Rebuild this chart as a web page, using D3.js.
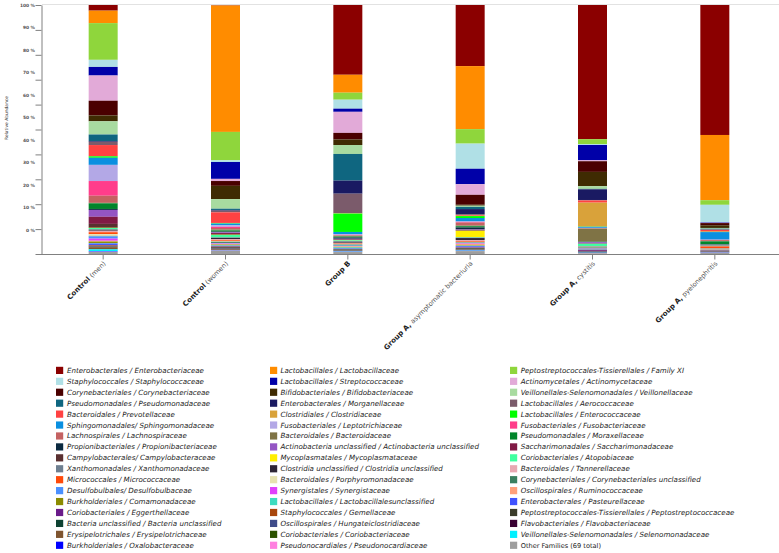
<!DOCTYPE html>
<html><head><meta charset="utf-8">
<script src="https://cdn.jsdelivr.net/npm/d3@7"></script>
<style>body{margin:0;background:#fff} svg{display:block}</style>
</head><body><svg id="c" width="779" height="553"></svg>
<script>
// ---- Data ----
const groupBold = ["Control", "Control", "Group B", "Group A,", "Group A,", "Group A,"];
const groupRest = [" (men)", " (women)", "", " asymptomatic bacteriuria", " cystitis", " pyelonephritis"];

// families in stacking order (top of bar first)
const families = [
 "Enterobacterales / Enterobacteriaceae","Lactobacillales / Lactobacillaceae","Peptostreptococcales-Tissierellales / Family XI",
 "Staphylococcales / Staphylococcaceae","Lactobacillales / Streptococcaceae","Actinomycetales / Actinomycetaceae",
 "Corynebacteriales / Corynebacteriaceae","Bifidobacteriales / Bifidobacteriaceae","Veillonellales-Selenomonadales / Veillonellaceae",
 "Pseudomonadales / Pseudomonadaceae","Enterobacterales / Morganellaceae","Lactobacillales / Aerococcaceae",
 "Bacteroidales / Prevotellaceae","Clostridiales / Clostridiaceae","Lactobacillales / Enterococcaceae",
 "Sphingomonadales/ Sphingomonadaceae","Fusobacteriales / Leptotrichiaceae","Fusobacteriales / Fusobacteriaceae",
 "Lachnospirales / Lachnospiraceae","Bacteroidales / Bacteroidaceae","Pseudomonadales / Moraxellaceae",
 "Propionibacteriales / Propionibacteriaceae","Actinobacteria unclassified / Actinobacteria unclassified","Saccharimonadales / Saccharimonadaceae",
 "Campylobacterales/ Campylobacteraceae","Mycoplasmatales / Mycoplasmataceae","Coriobacteriales / Atopobiaceae",
 "Xanthomonadales / Xanthomonadaceae","Clostridia unclassified / Clostridia unclassified","Bacteroidales / Tannerellaceae",
 "Micrococcales / Micrococcaceae","Bacteroidales / Porphyromonadaceae","Corynebacteriales / Corynebacteriales unclassified",
 "Desulfobulbales/ Desulfobulbaceae","Synergistales / Synergistaceae","Oscillospirales / Ruminococcaceae",
 "Burkholderiales / Comamonadaceae","Lactobacillales / Lactobacillalesunclassified","Enterobacterales / Pasteurellaceae",
 "Coriobacteriales / Eggerthellaceae","Staphylococcales / Gemellaceae","Peptostreptococcales-Tissierellales / Peptostreptococcaceae",
 "Bacteria unclassified / Bacteria unclassified","Oscillospirales / Hungateiclostridiaceae","Flavobacteriales / Flavobacteriaceae",
 "Erysipelotrichales / Erysipelotrichaceae","Coriobacteriales / Coriobacteriaceae","Veillonellales-Selenomonadales / Selenomonadaceae",
 "Burkholderiales / Oxalobacteraceae","Pseudonocardiales / Pseudonocardiaceae","Other Families (69 total)"
];

const familyColors = [
 "#8b0000","#ff8c00","#8fd63c","#b0e0e6","#0000a8","#e2aad8","#4a0000","#3f2b02","#a8dba0",
 "#0f6680","#1a1a62","#7b5b6b","#ff4242","#d9a23a","#00ff00","#0a8fe0","#b3a8e6","#ff3d8b",
 "#c46262","#7f7345","#00852a","#0b2a40","#9455c4","#801a45","#5a3030","#ffee00","#40ffa0",
 "#6e7f90","#2e2636","#e8a8b2","#ff4a0a","#e6e2b0","#3a8060","#4a90ff","#e040fb","#ffa07a",
 "#8b8b00","#3cdcc0","#3f52ff","#6a1b8a","#a8460c","#3a3c2a","#0e4232","#3e4b8a","#3a0032",
 "#7f5530","#2b5200","#00f0ff","#0000ff","#ff80e0","#9e9e9e"
];

// relative abundance (%) per family, in the order of `families`
const valsControlMen = [2.3,5.1,15,2.9,3.5,10.3,6.0,2.4,5.4,2.7,0.3,1.3,4.6,0,0.6,2.9,6.6,6.0,2.9,0.2,2.3,0.4,2.8,2.9,1.6,0.1,0.5,0.2,0.4,0.6,0.8,0.7,0.2,0.9,0.9,0.3,0.6,0.2,0.6,0.2,0.2,0.2,0.1,0.1,0.1,0.8,0.1,0.8,0.2,0.1,0.8];
const valsControlWomen = [0.2,52.5,11.8,0.7,7.0,0.9,2.0,5.5,4.0,0.5,0.3,0.7,4.4,0.1,0.2,0.7,0.6,0.5,0.6,0.4,0.5,0.3,0.3,0.4,0.3,0.1,1.0,0.2,0.5,0.5,0.3,0.3,0.5,0.2,0.2,0.3,0.3,0.2,0.2,0.2,0.2,0.4,0.1,0.1,0.3,0.2,0.1,0.1,0.1,0.1,1.3];
const valsGroupB = [28.8,7.4,2.9,3.7,1.3,8.7,2.7,2.3,3.7,11.0,5.4,8.0,0.1,0.1,7.6,0.9,0.3,0.2,0.2,0.3,0.4,0.5,0.2,0.2,0.2,0.1,0.3,0.4,0.3,0.3,0.2,0.2,0.4,0.2,0.1,0.3,0.2,0.4,0.2,0.1,0.1,0.2,0.1,0.1,0.1,0.1,0.1,0.2,0.1,0.1,0.8];
const valsAsymptomatic = [25.3,26.1,6.0,10.4,6.4,4.4,4.1,0.4,0.5,0.9,2.1,0.4,0.3,0.1,0.8,1.4,0.2,0.3,1.2,0.3,0.5,0.8,0.2,0.2,0.2,2.6,0.2,0.2,0.8,0.5,0.3,0.2,0.2,0.2,0.2,0.6,0.2,0.2,0.5,0.1,0.2,0.3,0.1,0.1,0.1,0.1,0.1,0.2,0.1,0.1,1.2];
const valsCystitis = [55.4,0,2.0,0.4,6.3,0.4,4.4,5.9,1.1,0.2,4.4,0.2,0.9,9.9,0.1,0.4,0.1,0.1,0.1,5.4,0.1,0.1,0.5,0.1,0.1,0,1.0,0.1,0.1,0.1,0.1,0.1,0.4,0.1,0.1,0.1,0.1,0.1,0.1,0.4,0.1,0.1,0.1,0.1,0.1,0.1,0.1,0.1,0.1,0.1,0.3];
const valsPyelonephritis = [53.4,26.8,1.9,7.2,0.2,0.1,0.9,1.1,0.3,0.3,0.1,0.1,0.7,0.1,0.1,3.1,0.1,0.1,0.4,0.1,1.3,0.1,0.1,0.1,0.1,0,0.1,0.1,0.1,0.1,0.8,0.1,0.1,0.1,0.1,0.1,0.1,0.1,0.1,0.1,0.1,0.1,0.1,0.1,0.1,0.1,0.1,0.1,0.1,0.1,0.4];

const yTickValues = [0,10,20,30,40,50,60,70,80,90,100];
const yTickLabels = ["0 %","10 %","20 %","30 %","40 %","50 %","60 %","70 %","80 %","90 %","100 %"];

// ---- Build ----
const allVals = [valsControlMen, valsControlWomen, valsGroupB, valsAsymptomatic, valsCystitis, valsPyelonephritis];
const groupIds = groupBold.map((b,i)=>i);
const rows = allVals.map((vals,gi)=>{ const r={g:gi}; vals.forEach((v,k)=>r[k]=v); return r; });
const keys = families.map((f,i)=>i);

const svg = d3.select("#c");
const x = d3.scaleBand().domain(groupIds).range([42,776]).paddingInner(0.763).paddingOuter(0.3815);
const y = d3.scaleLinear().domain([0,1]).range([254,5]);
const yTick = d3.scaleLinear().domain([0,100]).range([254,5]);
const yLab = d3.scaleLinear().domain([0,100]).range([230,5]);

const stack = d3.stack().keys(keys).order(d3.stackOrderReverse).offset(d3.stackOffsetExpand);
const series = stack(rows);

// top light border
svg.append("line").attr("x1",42).attr("x2",779).attr("y1",4.5).attr("y2",4.5).attr("stroke","#e2e2e2");

svg.append("g").selectAll("g").data(series).join("g")
  .attr("fill", s=>familyColors[s.key])
  .selectAll("rect").data(s=>s).join("rect")
  .attr("x", d=>x(d.data.g))
  .attr("y", d=>y(d[1]))
  .attr("width", x.bandwidth())
  .attr("height", d=>Math.max(0, y(d[0])-y(d[1])));

// left axis
const gy = svg.append("g").attr("transform","translate(41.5,0)")
  .call(d3.axisLeft(yTick).tickValues(yTickValues).tickFormat("").tickSize(6).tickSizeOuter(0));
gy.selectAll("path,line").attr("stroke","#808080");
svg.append("g").selectAll("text").data(yTickValues).join("text")
  .attr("x",35).attr("y",d=>yLab(d)).attr("dy","0.35em")
  .attr("text-anchor","end").attr("font-family","DejaVu Sans, sans-serif")
  .attr("font-size",4.4).attr("font-weight","bold").attr("fill","#555")
  .text((d,i)=>yTickLabels[i]);
svg.append("text").attr("transform","translate(6,118) rotate(-90)")
  .attr("text-anchor","middle").attr("dy","0.35em")
  .attr("font-family","DejaVu Sans, sans-serif").attr("font-size",4.4).attr("fill","#333")
  .text("Relative Abundance");

// bottom axis
svg.append("line").attr("x1",36).attr("x2",779).attr("y1",254.5).attr("y2",254.5).attr("stroke","#808080");
const gx = svg.append("g").attr("transform","translate(0,254.5)")
  .call(d3.axisBottom(x).tickFormat("").tickSize(5).tickSizeOuter(0));
gx.select(".domain").remove();
gx.selectAll("line").attr("stroke","#808080");

const xl = svg.append("g").selectAll("text").data(groupIds).join("text")
  .attr("transform", g=>`translate(${x(g)+x.bandwidth()/2+3},264) rotate(-45)`)
  .attr("text-anchor","end").attr("font-family","DejaVu Sans, sans-serif").attr("font-size",7.1);
xl.append("tspan").attr("font-weight","bold").attr("fill","#222").text(g=>groupBold[g]);
xl.append("tspan").attr("fill","#555").attr("font-size",6.6).text(g=>groupRest[g]);

// legend (column-major layout of stack order read row-wise)
const colSw = [56,270,510], colTx = [67,280.5,520.7];
const leg = svg.append("g").selectAll("g").data(keys).join("g")
  .attr("transform", k=>`translate(0,${370.4 + Math.floor(k/3)*10.93})`);
leg.append("rect").attr("x",k=>colSw[k%3]).attr("y",-3.6).attr("width",7.2).attr("height",7.2)
  .attr("fill",k=>familyColors[k]);
leg.append("text").attr("x",k=>colTx[k%3]).attr("dy","0.35em")
  .attr("font-family","DejaVu Sans, sans-serif")
  .attr("font-size",k=>k===50?6.6:7.1)
  .attr("font-style",k=>k===50?"normal":"italic")
  .attr("fill","#222")
  .text(k=>families[k]);
</script></body></html>
